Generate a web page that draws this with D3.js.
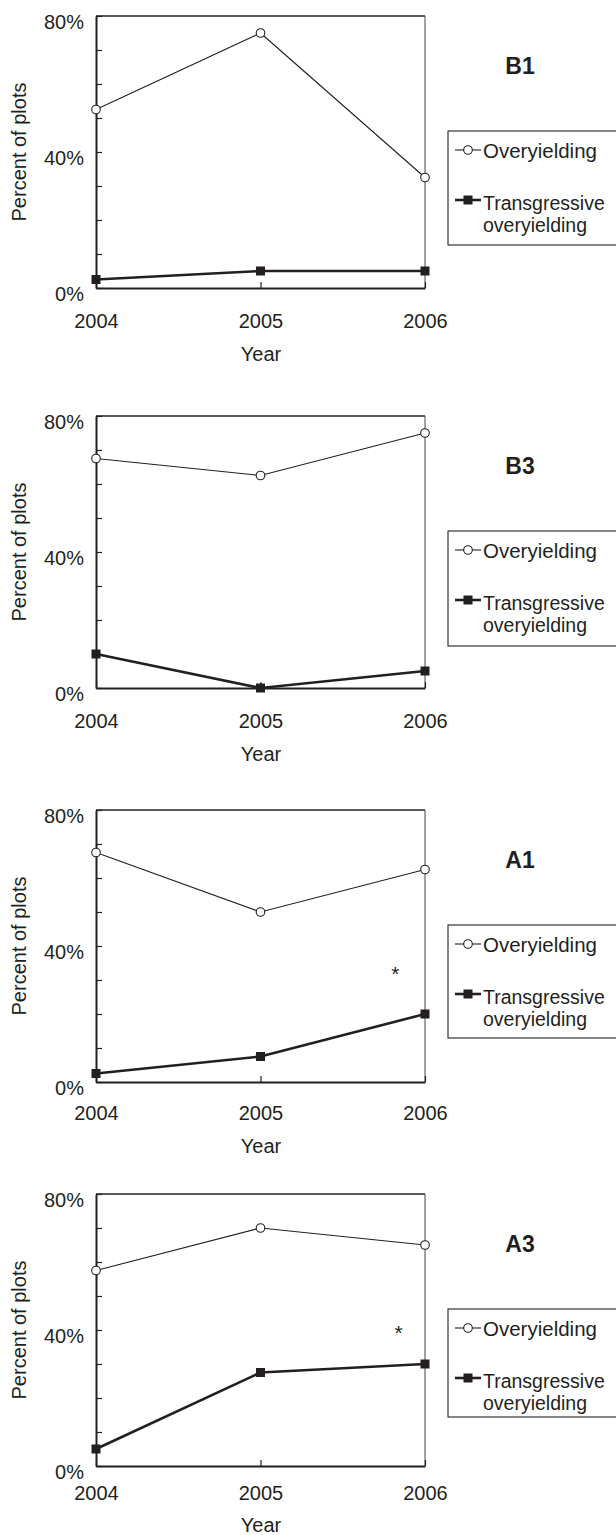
<!DOCTYPE html>
<html>
<head>
<meta charset="utf-8">
<script src="https://cdn.jsdelivr.net/npm/d3@7"></script>
<style>
  html, body { margin: 0; padding: 0; background: #fff; }
  svg { display: block; }
  text { font-family: "Liberation Sans", Arial, Helvetica, sans-serif; fill: #231f20; }
</style>
</head>
<body>
<svg id="chart" width="616" height="1535"></svg>
<script>
// ---- data ----
const years = [2004, 2005, 2006];
const panelNames = ["B1", "B3", "A1", "A3"];
const overyielding = [
  [52.5, 75, 32.5],
  [67.5, 62.5, 75],
  [67.5, 50, 62.5],
  [57.5, 70, 65]
];
const transgressive = [
  [2.5, 5, 5],
  [10, 0, 5],
  [2.5, 7.5, 20],
  [5, 27.5, 30]
];
const yTicks = [0, 10, 20, 30, 40, 50, 60, 70, 80];
const yTickLabels = ["0%", "", "", "", "40%", "", "", "", "80%"];
const seriesNames = ["Overyielding", "Transgressive", "overyielding"];
const asteriskYear = [null, null, 2005.82, 2005.84];
const asteriskValue = [null, null, 33, 40.5];

// ---- layout ----
const ink = "#231f20";
const svg = d3.select("#chart");
const left = 96, right = 425, plotH = 272;
const tops = [16, 416, 810, 1194];
const xLabelBase = [40, 40, 38, 34];
const yearBase = [73, 73, 71, 66];
const legendH = [114, 115, 113, 108];

const x = d3.scaleLinear().domain([2004, 2006]).range([left, right]);

panelNames.forEach((name, p) => {
  const top = tops[p], bottom = top + plotH;
  const y = d3.scaleLinear().domain([0, 80]).range([bottom, top]);
  const g = svg.append("g");

  // frame: top and right (thin)
  g.append("line").attr("x1", left).attr("x2", right).attr("y1", top).attr("y2", top)
    .attr("stroke", ink).attr("stroke-width", 1.3);
  g.append("line").attr("x1", right).attr("x2", right).attr("y1", top).attr("y2", bottom)
    .attr("stroke", "#444").attr("stroke-width", 1);

  // y axis
  const yAxis = d3.axisLeft(y).tickValues(yTicks)
    .tickFormat((d, i) => yTickLabels[i])
    .tickSizeInner(-6).tickSizeOuter(0).tickPadding(12);
  const ya = g.append("g").attr("transform", `translate(${left},0)`).call(yAxis);
  ya.select(".domain").attr("stroke", ink).attr("stroke-width", 2);
  ya.selectAll(".tick line").attr("stroke", ink).attr("stroke-width", 1.2);
  ya.selectAll(".tick text").attr("font-size", 20).attr("dy", "0.62em").attr("fill", ink)
    .attr("font-family", '"Liberation Sans", Arial, sans-serif');

  // x axis
  const xAxis = d3.axisBottom(x).tickValues(years).tickFormat(d3.format("d"))
    .tickSizeInner(-6).tickSizeOuter(0).tickPadding(xLabelBase[p] - 14.2);
  const xa = g.append("g").attr("transform", `translate(0,${bottom})`).call(xAxis);
  xa.select(".domain").attr("stroke", ink).attr("stroke-width", 2);
  xa.selectAll(".tick line").attr("stroke", ink).attr("stroke-width", 1.2);
  xa.selectAll(".tick text").attr("font-size", 20).attr("fill", ink)
    .attr("font-family", '"Liberation Sans", Arial, sans-serif');

  // axis titles
  g.append("text").attr("x", (left + right) / 2 + 0.5).attr("y", bottom + yearBase[p])
    .attr("text-anchor", "middle").attr("font-size", 20).text("Year");
  g.append("text").attr("transform", `translate(26,${(top + bottom) / 2}) rotate(-90)`)
    .attr("text-anchor", "middle").attr("font-size", 20).text("Percent of plots");

  // lines
  const line = d3.line().x((d, i) => x(years[i])).y(d => y(d));
  g.append("path").datum(overyielding[p]).attr("d", line)
    .attr("fill", "none").attr("stroke", ink).attr("stroke-width", 1.1);
  g.append("path").datum(transgressive[p]).attr("d", line)
    .attr("fill", "none").attr("stroke", ink).attr("stroke-width", 2.6);

  g.selectAll(".sq").data(transgressive[p]).enter().append("rect")
    .attr("x", (d, i) => x(years[i]) - 4.5).attr("y", d => y(d) - 4.5)
    .attr("width", 9).attr("height", 9).attr("fill", ink);
  g.selectAll(".ci").data(overyielding[p]).enter().append("circle")
    .attr("cx", (d, i) => x(years[i])).attr("cy", d => y(d)).attr("r", 4.3)
    .attr("fill", "#fff").attr("stroke", ink).attr("stroke-width", 1.1);

  // asterisk
  if (asteriskYear[p] !== null) {
    g.append("text").attr("x", x(asteriskYear[p])).attr("y", y(asteriskValue[p]) + 11.5)
      .attr("text-anchor", "middle").attr("font-size", 21).text("*");
  }

  // panel label
  g.append("text").attr("x", 520).attr("y", top + 58).attr("text-anchor", "middle")
    .attr("font-size", 23).attr("font-weight", "bold").text(name);

  // legend
  const lt = top + 115;
  g.append("rect").attr("x", 448).attr("y", lt).attr("width", 200).attr("height", legendH[p])
    .attr("fill", "none").attr("stroke", ink).attr("stroke-width", 1.1);
  g.append("line").attr("x1", 455).attr("x2", 481).attr("y1", lt + 19).attr("y2", lt + 19)
    .attr("stroke", ink).attr("stroke-width", 1.1);
  g.append("circle").attr("cx", 468).attr("cy", lt + 19).attr("r", 4.3)
    .attr("fill", "#fff").attr("stroke", ink).attr("stroke-width", 1.1);
  g.append("text").attr("x", 483).attr("y", lt + 27).attr("font-size", 20.5).text(seriesNames[0]);
  g.append("line").attr("x1", 455).attr("x2", 481).attr("y1", lt + 69).attr("y2", lt + 69)
    .attr("stroke", ink).attr("stroke-width", 2.6);
  g.append("rect").attr("x", 463.5).attr("y", lt + 64.5).attr("width", 9).attr("height", 9).attr("fill", ink);
  g.append("text").attr("x", 483).attr("y", lt + 79).attr("font-size", 19.5).text(seriesNames[1]);
  g.append("text").attr("x", 483).attr("y", lt + 101).attr("font-size", 19.5).text(seriesNames[2]);
});
</script>
</body>
</html>
